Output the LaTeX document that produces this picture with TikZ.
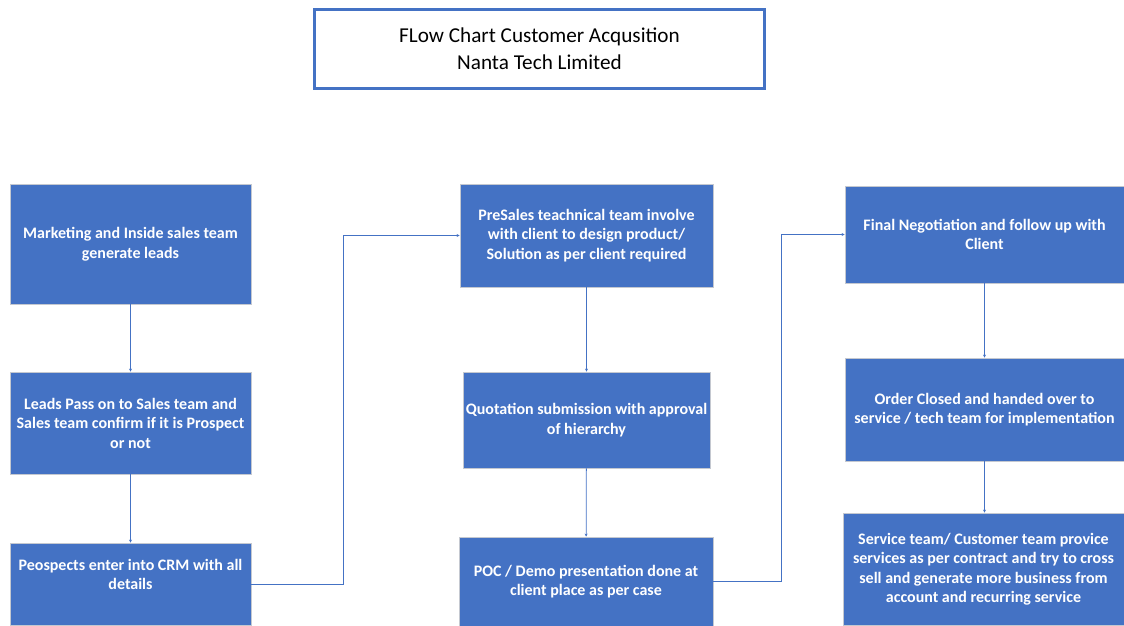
\documentclass[tikz,border=0pt]{standalone}
\usepackage{fontspec}
\setmainfont{Carlito}
\usetikzlibrary{arrows.meta, positioning, calc}
\definecolor{office_blue}{RGB}{68, 114, 196}
\definecolor{edge_gray}{RGB}{196, 200, 208}

\begin{document}
\begin{tikzpicture}[
    x=1pt, y=-1pt,
    heading/.style={
        rectangle,
        draw=office_blue,
        fill=white,
        line width=3pt,
        minimum width=450pt,
        minimum height=79pt,
        align=center,
        font=\fontsize{21.2}{27}\selectfont
    },
    stage/.style={
        rectangle,
        draw=edge_gray,
        fill=office_blue,
        line width=0.9pt,
        text=white,
        align=center,
        inner sep=0pt,
        font=\bfseries\fontsize{16}{19.5}\selectfont
    },
    arrow/.style={
        -{Stealth[length=3pt,width=3pt]},
        line width=0.8pt,
        #1
    }
]
\useasboundingbox (0,0) rectangle (1124,626);

% Title
\node[heading] (title) at (539.5,49) {FLow Chart Customer Acqusition\\Nanta Tech Limited};

% Position the first column
\node[stage, minimum width=241pt, minimum height=120pt] (leads) at (130.5,244)
    {Marketing and Inside sales team\\generate leads};
\node[stage, minimum width=241pt, minimum height=102pt] (prospect) at (130.5,423)
    {Leads Pass on to Sales team and\\Sales team confirm if it is Prospect\\or not};
\node[stage, minimum width=241pt, minimum height=82pt] (crm) at (130.5,584)
    {Peospects enter into CRM with all\\details\\\mbox{}};

% Position the second column
\node[stage, minimum width=253pt, minimum height=103pt] (presales) at (586.5,235.5)
    {PreSales teachnical team involve\\with client to design product/\\Solution as per client required};
\node[stage, minimum width=247pt, minimum height=96pt] (quote) at (586.5,420)
    {Quotation submission with approval\\of hierarchy};
\node[stage, minimum width=254pt, minimum height=89pt] (poc) at (586,581.5)
    {POC / Demo presentation done at\\client place as per case};

% Position the third column
\node[stage, minimum width=279pt, minimum height=97pt] (final) at (984.5,234.5)
    {Final Negotiation and follow up with\\Client};
\node[stage, minimum width=279pt, minimum height=103pt] (order) at (984.5,409.5)
    {Order Closed and handed over to\\service / tech team for implementation};
\node[stage, minimum width=281pt, minimum height=112pt] (service) at (983.5,569)
    {Service team/ Customer team provice\\services as per contract and try to cross\\sell and generate more business from\\account and recurring service};

% Draw the arrows
\draw[arrow=office_blue] (leads) -- (prospect);
\draw[arrow=office_blue] (prospect) -- (crm);
\draw[arrow=office_blue] (crm.east) -- ++(92,0) |- (presales.west);
\draw[arrow=office_blue] (presales) -- (quote);
\draw[arrow=office_blue] (quote) -- (poc);
\draw[arrow=office_blue] (poc.east) -- ++(68,0) |- (final.west);
\draw[arrow=office_blue] (final) -- (order);
\draw[arrow=office_blue] (order.south) -- (order.south |- service.north);

\end{tikzpicture}
\end{document}
